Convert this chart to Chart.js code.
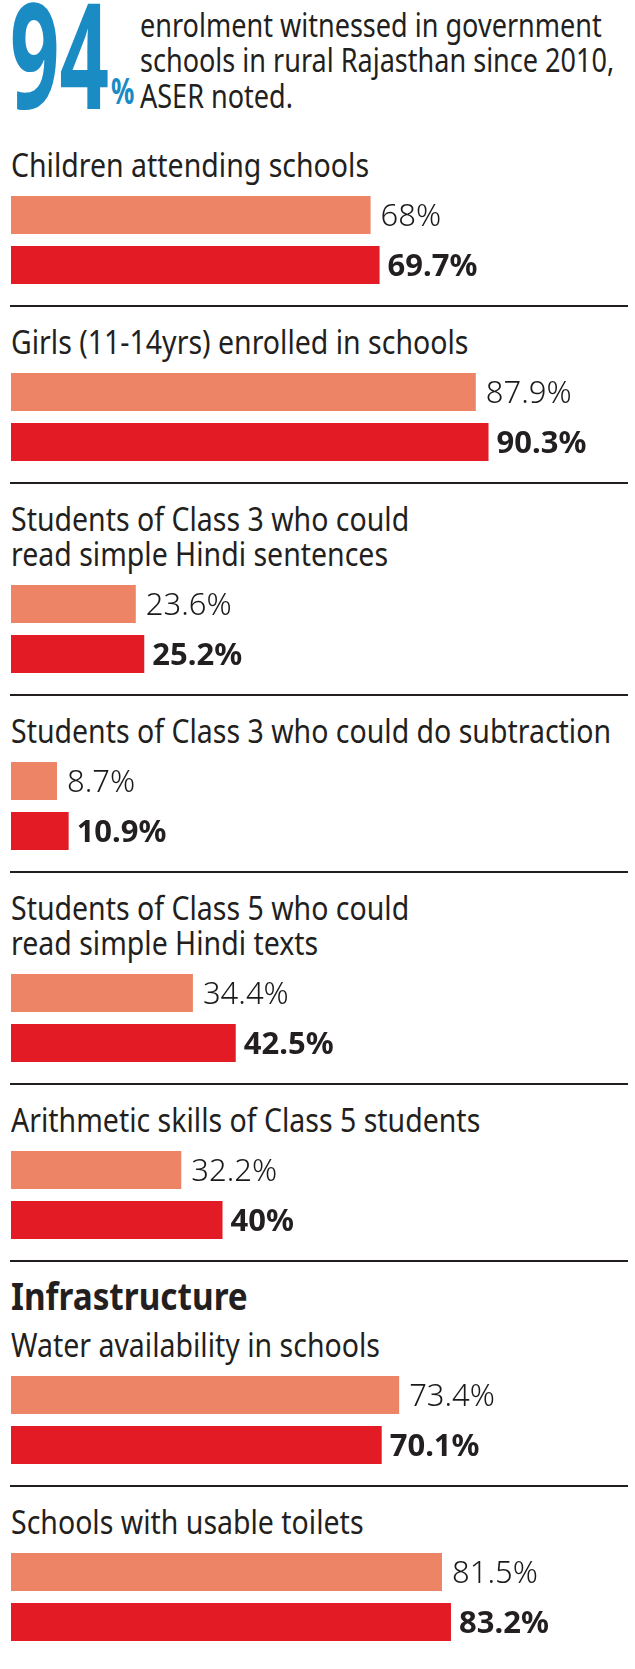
<!DOCTYPE html>
<html>
<head>
<meta charset="utf-8">
<script src="https://cdn.jsdelivr.net/npm/chart.js@4.4.1/dist/chart.umd.min.js"></script>
<style>
    body {
        margin: 0;
        width: 635px;
        height: 1669px;
        overflow: hidden;
        background: #fff;
        position: relative;
        font-family: "Noto Sans", sans-serif;
        color: #231f20;
    }
    .txt {
        position: absolute;
        white-space: pre;
        transform-origin: 0 0;
    }
    .sep {
        position: absolute;
        left: 10px;
        width: 618px;
        height: 2px;
        background: #231f20;
    }
    .box {
        position: absolute;
        left: 11px;
        width: 624px;
        height: 100px;
    }
</style>
</head>
<body>
<script>
// ============================================
// DATA
// ============================================
const categories = [
    'Children attending schools',
    'Girls (11-14yrs) enrolled in schools',
    'Students of Class 3 who could\nread simple Hindi sentences',
    'Students of Class 3 who could do subtraction',
    'Students of Class 5 who could\nread simple Hindi texts',
    'Arithmetic skills of Class 5 students',
    'Water availability in schools',
    'Schools with usable toilets'
];
const prevValues = [68, 87.9, 23.6, 8.7, 34.4, 32.2, 73.4, 81.5];
const currValues = [69.7, 90.3, 25.2, 10.9, 42.5, 40, 70.1, 83.2];

const headlineFigure = '94';
const headlineText = 'enrolment witnessed in government\nschools in rural Rajasthan since 2010,\nASER noted.';
const sectionHeading = 'Infrastructure';
const sectionStart = 6;

// Colours
const PREV_COLOR = '#ee8466';
const CURR_COLOR = '#e21b25';
const BLUE = '#1b8bc4';
const INK = '#231f20';

// Place a text block so that its first baseline sits at `baseline`
function placeText(text, x, baseline, fs, weight, scale, color, lh) {
    const el = document.createElement('div');
    el.className = 'txt';
    el.textContent = text;
    el.style.fontSize = fs + 'px';
    el.style.fontWeight = weight;
    el.style.lineHeight = lh + 'px';
    el.style.color = color;
    el.style.left = x + 'px';
    el.style.top = (baseline - ((lh - 1.362 * fs) / 2 + 1.069 * fs)) + 'px';
    el.style.transform = `scaleX(${scale})`;
    document.body.appendChild(el);
    return el;
}

function placeSep(y) {
    const el = document.createElement('div');
    el.className = 'sep';
    el.style.top = (y - 1) + 'px';
    document.body.appendChild(el);
}

// Value labels at the end of each bar
const valueLabels = {
    id: 'valueLabels',
    afterDatasetsDraw(chart) {
        const ctx = chart.ctx;
        chart.data.datasets.forEach((ds, i) => {
            const meta = chart.getDatasetMeta(i);
            meta.data.forEach((bar, j) => {
                const bold = i === 1;
                ctx.save();
                ctx.font = (bold ? 'bold 31px' : '300 31px') + ' "Noto Sans", sans-serif';
                ctx.fillStyle = bold ? INK : '#1a1a1a';
                ctx.textBaseline = 'alphabetic';
                ctx.fillText(ds.data[j] + '%', bar.x + (bold ? 8 : 10), bar.y + 11);
                ctx.restore();
            });
        });
    }
};

function makeChart(index, top) {
    const box = document.createElement('div');
    box.className = 'box';
    box.style.top = top + 'px';
    const canvas = document.createElement('canvas');
    box.appendChild(canvas);
    document.body.appendChild(box);

    new Chart(canvas, {
        type: 'bar',
        data: {
            labels: [categories[index]],
            datasets: [{
                data: [prevValues[index]],
                backgroundColor: PREV_COLOR,
                borderWidth: 0
            }, {
                data: [currValues[index]],
                backgroundColor: CURR_COLOR,
                borderWidth: 0
            }]
        },
        options: {
            indexAxis: 'y',
            responsive: true,
            maintainAspectRatio: false,
            animation: false,
            categoryPercentage: 1,
            barPercentage: 0.76,
            layout: { padding: 0 },
            plugins: {
                legend: { display: false },
                tooltip: { enabled: false }
            },
            scales: {
                x: { display: false, min: 0, max: 118 },
                y: { display: false }
            }
        },
        plugins: [valueLabels]
    });
}

// Header
placeText(headlineFigure, 10, 109, 148, 700, 0.585, BLUE, 180);
placeText('%', 111, 105, 36, 700, 0.72, BLUE, 42);
placeText(headlineText, 140, 37, 32, 400, 0.845, INK, 35.5);

// Groups
let baseline = 177;
categories.forEach((title, i) => {
    if (i === sectionStart) {
        placeText(sectionHeading, 11, baseline + 1, 37, 700, 0.9, INK, 42);
        baseline += 48;
    }
    const lines = title.split('\n').length;
    placeText(title, 11, baseline, 32, 400, 0.89, INK, 35);
    const lastBaseline = baseline + (lines - 1) * 35;
    makeChart(i, lastBaseline + 13);
    const sepY = lastBaseline + 129;
    if (i < categories.length - 1) {
        placeSep(sepY);
    }
    baseline = sepY + 48;
});
</script>
</body>
</html>
